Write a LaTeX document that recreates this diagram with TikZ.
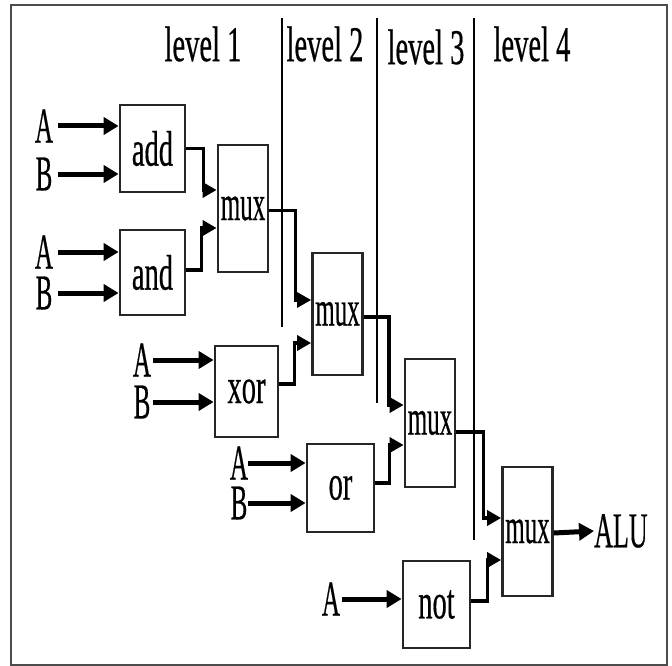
\documentclass[tikz,border=0pt]{standalone}
\usepackage{fontspec}
\setmainfont{Liberation Serif}
\newfontfamily\heavyserif[FakeBold=0.6]{Liberation Serif}
\usetikzlibrary{arrows.meta}
\newcommand{\sq}[2][0.57]{\scalebox{#1}[1]{#2}}
\tikzset{
  txt/.style={inner sep=0pt, font=\fontsize{50}{54}\heavyserif, text=black},
  gate/.style={draw=black!85, line width=2.8pt, fill=white, inner sep=0pt,
    font=\fontsize{50}{54}\heavyserif, text=black},
  muxbox/.style={gate, minimum width=50pt},
  inarrow/.style={line width=5pt, -{Triangle[length=15pt,width=17pt]}},
  wire/.style={line width=3.8pt, -{Triangle[length=14pt,width=15pt]}},
  levelline/.style={line width=1.5pt, black},
}
\begin{document}
\begin{tikzpicture}[x=1pt, y=-1pt]
\useasboundingbox (0,0) rectangle (672,666);
\draw[line width=1.6pt, black!70] (11,5) rectangle (667,665);

% level labels and separators
\node[txt] (l1) at (203,44) {\sq{level 1}};
\node[txt] (l2) at (325,44) {\sq{level 2}};
\node[txt] (l3) at (426,47) {\sq{level 3}};
\node[txt] (l4) at (532,44) {\sq{level 4}};
\coordinate (s1a) at (282,18); \coordinate (s1b) at (282,327);
\coordinate (s2a) at (377,18); \coordinate (s2b) at (377,403);
\coordinate (s3a) at (474,18); \coordinate (s3b) at (474,540);
\draw[levelline] (s1a) -- (s1b);
\draw[levelline] (s2a) -- (s2b);
\draw[levelline] (s3a) -- (s3b);

% gates
\node[gate, minimum width=65pt, minimum height=87pt] (add) at (152.5,148.5) {\sq{add}};
\node[gate, minimum width=65pt, minimum height=85pt] (and) at (152.5,272.5) {\sq{and}};
\node[gate, minimum width=63pt, minimum height=91pt] (xor) at (246.5,391.5) {\sq{xor}};
\node[gate, minimum width=67pt, minimum height=88pt] (or) at (340.5,488) {\sq{or}};
\node[gate, minimum width=67pt, minimum height=87pt] (not) at (436.5,604.5) {\sq{not}};
\node[muxbox, minimum height=127pt] (m1) at (243,208.5) {\sq[0.5]{mux}};
\node[muxbox, minimum height=122pt] (m2) at (337.5,314) {\sq[0.5]{mux}};
\node[muxbox, minimum height=128pt] (m3) at (430,423) {\sq[0.5]{mux}};
\node[muxbox, minimum height=129pt] (m4) at (527.5,531.5) {\sq[0.5]{mux}};

% input letters
\node[txt] (a1) at (44,126) {\sq[0.5]{A}};
\node[txt] (b1) at (44,174) {\sq[0.5]{B}};
\node[txt] (a2) at (44,252) {\sq[0.5]{A}};
\node[txt] (b2) at (44,293) {\sq[0.5]{B}};
\node[txt] (a3) at (142,360) {\sq[0.5]{A}};
\node[txt] (b3) at (142,402) {\sq[0.5]{B}};
\node[txt] (a4) at (239,463) {\sq[0.5]{A}};
\node[txt] (b4) at (239,503) {\sq[0.5]{B}};
\node[txt] (a5) at (331,599) {\sq[0.5]{A}};
\node[txt, anchor=west] (alu) at (594,531) {\sq[0.52]{ALU}};

% input arrows
\draw[inarrow] ([xshift=5pt]a1.east) -- (a1.east -| add.west);
\draw[inarrow] ([xshift=5pt]b1.east) -- (b1.east -| add.west);
\draw[inarrow] ([xshift=5pt]a2.east) -- (a2.east -| and.west);
\draw[inarrow] ([xshift=5pt]b2.east) -- (b2.east -| and.west);
\draw[inarrow] ([xshift=2pt]a3.east) -- (a3.east -| xor.west);
\draw[inarrow] ([xshift=2pt]b3.east) -- (b3.east -| xor.west);
\draw[inarrow] (a4.east) -- (a4.east -| or.west);
\draw[inarrow] (b4.east) -- (b4.east -| or.west);
\draw[inarrow] ([xshift=2pt]a5.east) -- (a5.east -| not.west);

% wires between gates
\draw[wire] (add.east) -- ++(17,0) |- ([yshift=18.5pt]m1.west);
\draw[wire] ([yshift=2.5pt]and.east) -- ++(15,0) |- ([yshift=-19.5pt]m1.west);
\draw[wire, line width=3pt] ([yshift=-1.5pt]m1.east) -- ++(26,0) |- ([yshift=14pt]m2.west);
\draw[wire] ([yshift=7.5pt]xor.east) -- ++(15,0) |- ([yshift=-29pt]m2.west);
\draw[wire] ([yshift=-3pt]m2.east) -- ++(25,0) |- ([yshift=18pt]m3.west);
\draw[wire] ([yshift=5pt]or.east) -- ++(14,0) |- ([yshift=-22pt]m3.west);
\draw[wire] ([yshift=-9pt]m3.east) -- ++(27,0) |- ([yshift=13.5pt]m4.west);
\draw[wire] ([yshift=3.5pt]not.east) -- ++(16,0) |- ([yshift=-28.5pt]m4.west);
\draw[inarrow] ([yshift=-1.5pt]m4.east) -- (alu.west);
\end{tikzpicture}
\end{document}
